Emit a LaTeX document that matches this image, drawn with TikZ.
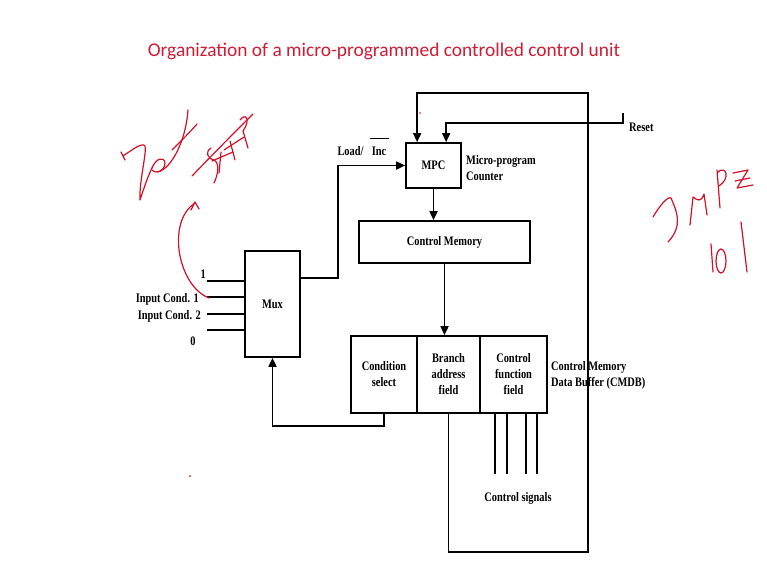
\documentclass[tikz,border=0pt]{standalone}
\usepackage{fontspec}
\setmainfont{Liberation Serif}
\newfontfamily\titlefont{Carlito}
\newfontfamily\narrowfont{Liberation Serif}[FakeStretch=0.8]
\usetikzlibrary{arrows.meta,calc}
\definecolor{titlered}{RGB}{205,28,52}
\definecolor{penred}{RGB}{212,16,40}
\newcommand\lblfont{\narrowfont\bfseries\fontsize{13}{16}\selectfont}

\begin{document}
\begin{tikzpicture}[x=1pt,y=-1pt,>={Triangle[length=9pt,width=8pt]},
    line join=miter,
    wire@/.style={line width=1.7pt},
    blk@/.style={draw,line width=1.7pt,inner sep=1pt,align=center,font=\lblfont},
    lbl@/.style={inner sep=0pt,align=left,font=\lblfont},
    ink@/.style={draw=penred,line width=1.2pt,line cap=round,line join=round}]
    \useasboundingbox (0,0) rectangle (767,573);

    % The title.
    \node[text=titlered,font=\titlefont\fontsize{19.4}{23}\selectfont] (title)
      at (384,51) {Organization of a micro-programmed controlled control unit};

    % The blocks.
    \node[blk@,minimum width=55pt,minimum height=45pt] (mpc) at (433.5,165.5) {MPC};
    \node[blk@,minimum width=171pt,minimum height=42pt] (cm) at (444.5,242) {Control Memory};
    \node[blk@,minimum width=55pt,minimum height=106pt] (mux) at (272.5,304) {Mux};
    \node[blk@,minimum width=66pt,minimum height=77pt] (cs) at (384,374.5) {Condition\\select};
    \node[blk@,minimum width=63pt,minimum height=77pt] (ba) at (448.5,374.5) {Branch\\address\\field};
    \node[blk@,minimum width=67pt,minimum height=77pt] (cf) at (513.5,374.5) {Control\\function\\field};

    % Labels beside the blocks.
    \node[lbl@,anchor=west] (mpclbl) at (466,168) {Micro-program\\Counter};
    \node[lbl@,anchor=west] (cmdb) at (551,375) {Control Memory\\Data Buffer (CMDB)};
    \node[lbl@,anchor=base] (ldinc) at (363,155)
      {Load/\hspace{6pt}\shortstack{\rule{19pt}{1.6pt}\\[4pt]Inc}};
    \node[lbl@,anchor=west] (rstlbl) at (629,127) {Reset};
    \node[lbl@] (sigs) at (518,498) {Control signals};

    % The data paths.
    \draw[wire@,->] (mpc.south) -- (mpc.south |- cm.north);
    \draw[wire@,->] (cm.south) -- (cm.south |- ba.north);
    \draw[wire@,->] ([yshift=26pt]mux.east) -- ++(37,0) |- (mpc.west);
    \draw[wire@,->] (cs.south) -- ++(0,12) -| (mux.south);
    \coordinate (loopse) at (588,552);
    \draw[wire@,->] (ba.south) |- (loopse) -- (loopse |- 0,93)
      -| ([xshift=12pt]mpc.north west);
    \coordinate (rst) at (623,113);
    \draw[wire@,->] (rst) -- ++(0,10) -| ([xshift=41pt]mpc.north west);
    \foreach \dx in {16,28,47,58}
      \draw[wire@] ([xshift=\dx pt]cf.south west) -- ++(0,60);

    % The mux inputs.
    \foreach \y/\nm in {281/in1,297/in2,314/in3,330/in4} {
      \coordinate (\nm) at (207,\y);
      \draw[wire@] (\nm) -- (\nm -| mux.west);
    }
    \node[lbl@,anchor=east] (one) at (206,274) {1};
    \node[lbl@,anchor=east] (cond1) at (199,299) {Input Cond. 1};
    \node[lbl@,anchor=east] (cond2) at (201,316) {Input Cond. 2};
    \node[lbl@] (zero) at (193,341) {0};

    % Pen marks made over the slide.
    \draw[ink@] (121,152) -- (125,160);
    \draw[ink@] (123,156) .. controls (132,150) and (142,142) .. (145,146)
      .. controls (147,152) and (139,182) .. (140,200)
      .. controls (144,188) and (148,176) .. (152,168);
    \draw[ink@] (152,168) .. controls (156,158) and (164,156) .. (165,163)
      .. controls (165,170) and (157,175) .. (152,170);
    \draw[ink@] (158,172) .. controls (172,168) and (186,140) .. (188,110);
    \draw[ink@] (172,150) .. controls (182,140) and (190,132) .. (197,124);
    \draw[ink@] (192,176) .. controls (215,152) and (235,132) .. (253,114);
    \draw[ink@] (211,148) .. controls (205,152) and (207,158) .. (214,160)
      .. controls (220,163) and (218,175) .. (214,183);
    \draw[ink@] (221,152) -- (219,173);
    \draw[ink@] (212,161) -- (233,152);
    \draw[ink@] (230,141) -- (235,160);
    \draw[ink@] (240,120) .. controls (246,112) and (251,120) .. (243,131) -- (248,148);
    \draw[ink@] (224,150) -- (244,137);
    \draw[ink@] (209,298) .. controls (178,286) and (166,222) .. (195,203);
    \draw[ink@] (191,210) -- (195,202) -- (199,209);
    \fill[penred] (420,113) circle (0.8pt);
    \fill[penred] (190,476) circle (1pt);

    \draw[ink@] (653,217) .. controls (660,205) and (668,196) .. (671,198)
      .. controls (676,210) and (684,225) .. (668,242);
    \draw[ink@] (690,225) -- (693,197) .. controls (697,200) and (701,203) .. (704,194)
      -- (707,215);
    \draw[ink@] (717,170) -- (720,208);
    \draw[ink@] (718,172) .. controls (726,165) and (731,178) .. (719,186);
    \draw[ink@] (733,173) -- (748,170) -- (737,188) -- (753,185);
    \draw[ink@] (735,181) -- (750,178);
    \draw[ink@] (711,244) -- (713,272);
    \draw[ink@] (721,261) ellipse (5pt and 12pt);
    \draw[ink@] (741,222) -- (747,272);
  \end{tikzpicture}
\end{document}
